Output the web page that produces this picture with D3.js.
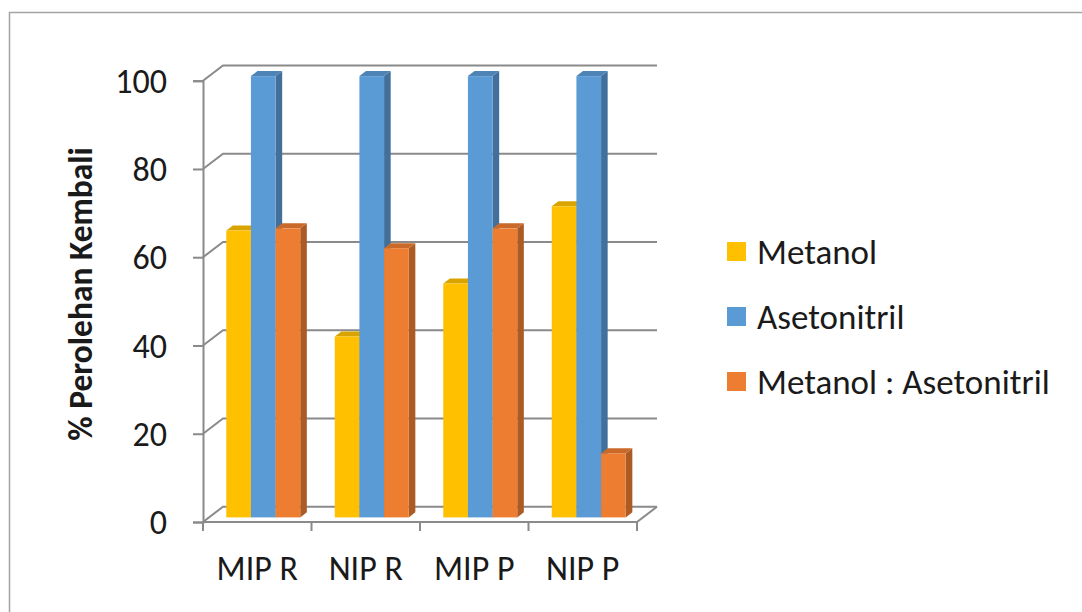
<!DOCTYPE html>
<html>
<head>
<meta charset="utf-8">
<script src="https://cdn.jsdelivr.net/npm/d3@7"></script>
<style>
  html, body { margin: 0; padding: 0; background: #fff; }
  svg { display: block; }
  text { font-family: Carlito, Calibri, Lato, sans-serif; fill: #1a1a1a; }
</style>
</head>
<body>
<svg id="chart" width="1082" height="612"></svg>
<script>
// Recovery (%) per sample and extraction solvent
const categories = ["MIP R", "NIP R", "MIP P", "NIP P"];
const seriesNames = ["Metanol", "Asetonitril", "Metanol : Asetonitril"];
const metanol = [65, 41, 53, 70.5];
const asetonitril = [100, 100, 100, 100];
const campuran = [65.5, 61, 65.5, 14.5];
const yTicks = [0, 20, 40, 60, 80, 100];
const colors = ["#FFC000", "#5B9BD5", "#ED7D31"];
const yTitle = "% Perolehan Kembali";

const seriesValues = [metanol, asetonitril, campuran];
const rows = categories.map((c, i) => ({
  cat: c,
  vals: seriesNames.map((s, j) => ({ series: s, idx: j, value: seriesValues[j][i] }))
}));

const svg = d3.select("#chart");

// outer chart frame
svg.append("rect")
  .attr("x", 9.5).attr("y", 12.5)
  .attr("width", 1120).attr("height", 700)
  .attr("fill", "none").attr("stroke", "#a3a3a3").attr("stroke-width", 1.5);

// 3D projection: depth pushes right and up
const depthX = 20, depthY = -15.3;
const x0 = 203, x1 = 637;
const y = d3.scaleLinear().domain([0, 100]).range([522, 80.7]);
const xCat = d3.scaleBand().domain(categories).range([x0, x1]).padding(0);
const xSer = d3.scaleBand().domain(seriesNames).range([0, xCat.bandwidth()]).paddingInner(0).paddingOuter(0.7);

const gridColor = "#8a8a8a";

// back wall gridlines with the side-wall diagonal
const grid = svg.append("g");
yTicks.forEach(t => {
  const yf = y(t);
  grid.append("path")
    .attr("d", `M${x0},${yf}L${x0 + depthX},${yf + depthY}L${x1 + depthX},${yf + depthY}`)
    .attr("fill", "none").attr("stroke", gridColor).attr("stroke-width", 2);
});

// floor outline
svg.append("path")
  .attr("d", `M${x0},${y(0)}L${x1},${y(0)}L${x1 + depthX},${y(0) + depthY}`)
  .attr("fill", "none").attr("stroke", gridColor).attr("stroke-width", 2);

// front vertical axis with ticks
const yAxis = d3.axisLeft(y).tickValues(yTicks).tickSize(10).tickPadding(26);
const gy = svg.append("g").attr("transform", `translate(${x0},0)`).call(yAxis);
gy.select(".domain").attr("stroke", gridColor).attr("stroke-width", 2);
gy.selectAll(".tick line").attr("stroke", gridColor).attr("stroke-width", 2);
gy.selectAll(".tick text")
  .style("font-size", "34px").attr("dy", "0.34em").attr("fill", "#1a1a1a");

// category axis ticks and labels
const xAxis = d3.axisBottom(xCat).tickSize(0).tickPadding(34);
const gx = svg.append("g").attr("transform", `translate(0,${y(0)})`).call(xAxis);
gx.select(".domain").remove();
gx.selectAll(".tick text").style("font-size", "34px").attr("fill", "#1a1a1a");
const catEdges = categories.map(c => xCat(c)).concat([x1]);
svg.append("g").selectAll("line").data(catEdges).join("line")
  .attr("x1", d => d).attr("x2", d => d)
  .attr("y1", y(0)).attr("y2", y(0) + 9)
  .attr("stroke", gridColor).attr("stroke-width", 2);

// 3D bars
const barDepth0 = 0.3, barDepth1 = 0.63;
const offX = depthX * barDepth0, offY = depthY * barDepth0;
const sideX = depthX * (barDepth1 - barDepth0), sideY = depthY * (barDepth1 - barDepth0);

const bars = svg.append("g");
rows.forEach(r => {
  r.vals.forEach(v => {
    const c = d3.color(colors[v.idx]);
    const xl = xCat(r.cat) + xSer(v.series) + offX;
    const xr = xl + xSer.bandwidth();
    const yt = y(v.value) + offY;
    const yb = y(0) + offY;
    const g = bars.append("g");
    // side face
    g.append("path")
      .attr("d", `M${xr},${yb}L${xr + sideX},${yb + sideY}L${xr + sideX},${yt + sideY}L${xr},${yt}Z`)
      .attr("fill", c.darker(0.9));
    // top face
    g.append("path")
      .attr("d", `M${xl},${yt}L${xr},${yt}L${xr + sideX},${yt + sideY}L${xl + sideX},${yt + sideY}Z`)
      .attr("fill", c.darker(0.45));
    // front face
    g.append("rect")
      .attr("x", xl).attr("y", yt)
      .attr("width", xSer.bandwidth()).attr("height", yb - yt)
      .attr("fill", c);
  });
});

// y axis title
svg.append("text")
  .attr("transform", `translate(92,294) rotate(-90)`)
  .attr("text-anchor", "middle")
  .style("font-size", "33.5px").style("font-weight", "bold")
  .text(yTitle);

// legend
const legend = svg.append("g").attr("transform", "translate(727,252)");
seriesNames.forEach((s, i) => {
  const g = legend.append("g").attr("transform", `translate(0,${i * 65})`);
  g.append("rect").attr("x", 0).attr("y", -10).attr("width", 19).attr("height", 19).attr("fill", colors[i]);
  g.append("text").attr("x", 30).attr("y", 0).attr("dy", "0.33em")
    .style("font-size", "35px").text(s);
});
</script>
</body>
</html>
